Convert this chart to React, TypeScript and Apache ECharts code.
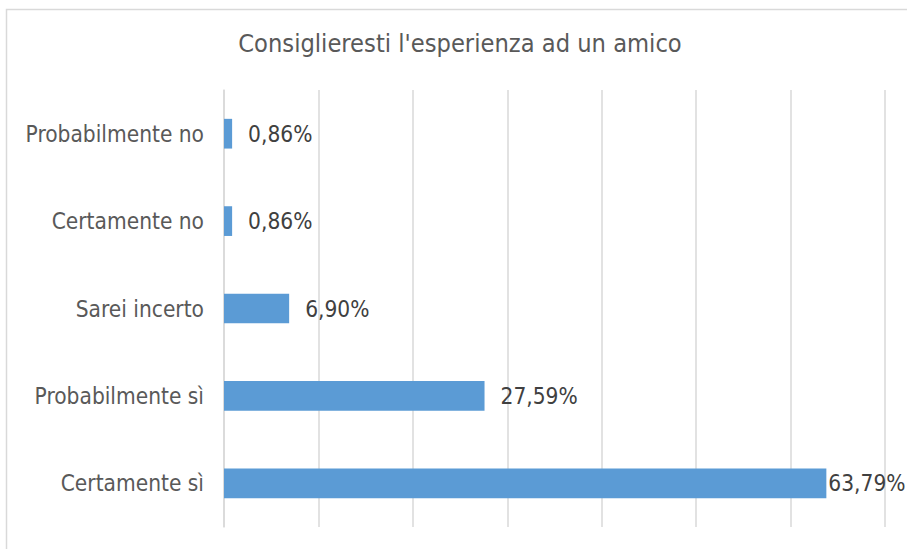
import React, { useEffect, useRef } from "react";
import * as echarts from "echarts";

const categories = ["Certamente sì", "Probabilmente sì", "Sarei incerto", "Certamente no", "Probabilmente no"];
const values = [63.79, 27.59, 6.9, 0.86, 0.86];
const labelDistances = [2, 16, 16, 16, 16];
const titleText = "Consiglieresti l'esperienza ad un amico";

export default function App() {
  const ref = useRef<HTMLDivElement>(null);
  useEffect(() => {
    const chart = echarts.init(ref.current!, null, { renderer: "svg" });
    const font = "DejaVu Sans Condensed";
    chart.setOption({
      animation: false,
      textStyle: { fontFamily: font },
      title: {
        text: titleText,
        left: 455,
        textAlign: "center",
        top: 26,
        textStyle: { fontFamily: font, fontSize: 25.2, fontWeight: "normal", color: "#595959" },
      },
      graphic: [
        {
          type: "rect",
          shape: { x: 6.5, y: 9.5, width: 1000, height: 1000 },
          style: { fill: "none", stroke: "#d9d9d9", lineWidth: 1.5 },
          silent: true,
        },
      ],
      grid: { left: 224, right: 22, top: 90, bottom: 22, containLabel: false },
      xAxis: {
        type: "value",
        min: 0,
        max: 70,
        interval: 10,
        axisLabel: { show: false },
        axisLine: { show: false },
        axisTick: { show: false },
        splitLine: { show: true, lineStyle: { color: "#d9d9d9", width: 1.5 } },
      },
      yAxis: {
        type: "category",
        data: categories,
        axisLine: { show: true, lineStyle: { color: "#d9d9d9", width: 1.5 } },
        axisTick: { show: false },
        axisLabel: { color: "#595959", fontSize: 22.5, fontFamily: font, margin: 20 },
      },
      series: [
        {
          type: "bar",
          data: values.map((v, i) => ({
            value: v,
            label: { distance: labelDistances[i] },
          })),
          barWidth: "34%",
          itemStyle: { color: "#5b9bd5" },
          label: {
            show: true,
            position: "right",
            color: "#404040",
            fontSize: 22.5,
            fontFamily: font,
            formatter: (p: any) => p.value.toFixed(2).replace(".", ",") + "%",
          },
        },
      ],
    });
    return () => chart.dispose();
  }, []);
  return <div ref={ref} style={{ width: 907, height: 549, position: "absolute", left: 0, top: 0 }} />;
}
